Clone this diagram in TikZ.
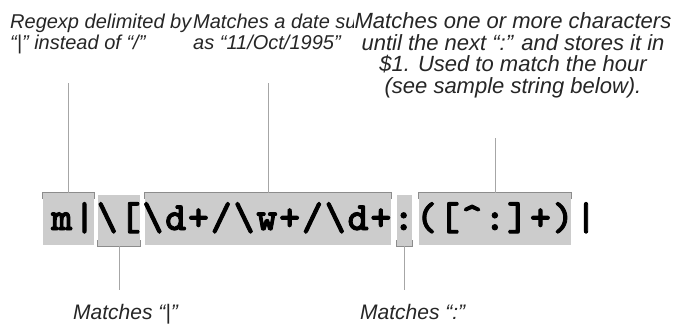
\documentclass[tikz,border=0pt]{standalone}
\usepackage{fontspec}
\setmainfont{Liberation Sans}
\newfontfamily\codefont{lmmonolt10-bold.otf}[LetterSpace=4.5,FakeBold=2.2]
\begin{document}
\begin{tikzpicture}[x=1pt,y=-1pt,
  lab/.style={font=\fontsize{21}{21.5}\selectfont\itshape, inner sep=0pt, text=black!85},
  labs/.style={lab, font=\fontsize{20}{21}\selectfont\itshape},
  labl/.style={lab, font=\fontsize{22}{21.5}\selectfont\itshape},
  seg/.style={fill=black!20, draw=none, inner sep=0pt},
  brk/.style={draw=black!45, line width=0.8pt},
  lead/.style={draw=black!35, line width=0.9pt},
  code/.style={font=\codefont\fontsize{40}{40}\selectfont, inner sep=0pt, anchor=base west}]
\path[use as bounding box, fill=white] (0,0) rectangle (681,324);

% shaded segments
\node[seg, minimum width=51pt, minimum height=52pt] (b1) at (68.5,219) {};
\node[seg, minimum width=42pt, minimum height=51pt] (b2) at (119,220.5) {};
\node[seg, minimum width=246pt, minimum height=52pt] (b3) at (268,219) {};
\node[seg, minimum width=15pt, minimum height=51pt] (b4) at (404.5,220.5) {};
\node[seg, minimum width=152pt, minimum height=52pt] (b5) at (495,219) {};

% brackets on the connected side
\foreach \b in {b1,b3,b5}{
  \draw[brk] ([yshift=-6pt]\b.north west) -- (\b.north west) -- (\b.north east) -- ([yshift=-6pt]\b.north east);
}
\foreach \b in {b2,b4}{
  \draw[brk] ([yshift=6pt]\b.south west) -- (\b.south west) -- (\b.south east) -- ([yshift=6pt]\b.south east);
}

% the regular expression
\node[code] (rx) at (51,230) {m|\textbackslash[\textbackslash d+/\textbackslash w+/\textbackslash d+:([\textasciicircum:]+)|};

% labels (base anchor = baseline of the last line)
\node[labs, anchor=base west, align=left] (n1) at (10,49.5) {Regexp delimited by\\“|” instead of “/”};
\node[labs, anchor=base west, align=left] (n2) at (193,49.5) {Matches a date such\\as “11/Oct/1995”};
\node[labl, anchor=base, align=center, fill=white, inner xsep=0.5pt] (n3) at (513,93) {Matches one or more characters\\until the next “:” and stores it in\\\$1. Used to match the hour\\(see sample string below).};
\node[lab, anchor=base west] (n4) at (73,319) {Matches “|”};
\node[lab, anchor=base west] (n5) at (360,319) {Matches “:”};

% leaders
\coordinate (e1) at (68.5,83);
\coordinate (e2) at (268,83);
\coordinate (e3) at (495,138);
\coordinate (e4) at (119,290);
\coordinate (e5) at (404.5,290);
\draw[lead] (e1) -- (b1.north);
\draw[lead] (e2) -- (b3.north);
\draw[lead] (e3) -- (b5.north);
\draw[lead] (b2.south) -- (e4);
\draw[lead] (b4.south) -- (e5);
\end{tikzpicture}
\end{document}
